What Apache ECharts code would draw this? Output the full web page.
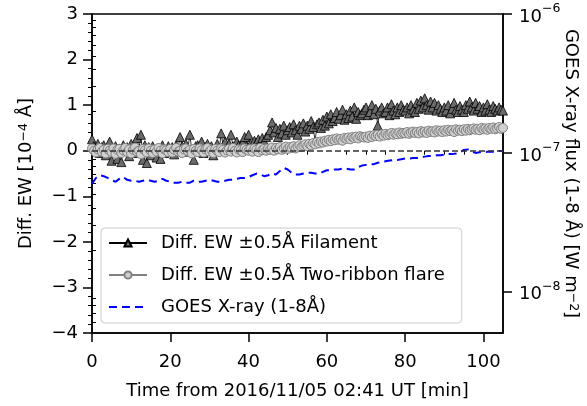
<!DOCTYPE html>
<html>
<head>
<meta charset="utf-8">
<script src="https://cdn.jsdelivr.net/npm/echarts@6/dist/echarts.min.js"></script>
<style>
html, body { margin: 0; padding: 0; background: #fff; }
#chart { width: 587px; height: 406px; }
</style>
</head>
<body>
<div id="chart"></div>
<script>
// time from 2016/11/05 02:41 UT [min], EW cadence 30 s
var ewTimes = [0,0.5,1,1.5,2,2.5,3,3.5,4,4.5,5,5.5,6,6.5,7,7.5,8,8.5,9,9.5,
  10,10.5,11,11.5,12,12.5,13,13.5,14,14.5,15,15.5,16,16.5,17,17.5,18,18.5,19,19.5,
  20,20.5,21,21.5,22,22.5,23,23.5,24,24.5,25,25.5,26,26.5,27,27.5,28,28.5,29,29.5,
  30,30.5,31,31.5,32,32.5,33,33.5,34,34.5,35,35.5,36,36.5,37,37.5,38,38.5,39,39.5,
  40,40.5,41,41.5,42,42.5,43,43.5,44,44.5,45,45.5,46,46.5,47,47.5,48,48.5,49,49.5,
  50,50.5,51,51.5,52,52.5,53,53.5,54,54.5,55,55.5,56,56.5,57,57.5,58,58.5,59,59.5,
  60,60.5,61,61.5,62,62.5,63,63.5,64,64.5,65,65.5,66,66.5,67,67.5,68,68.5,69,69.5,
  70,70.5,71,71.5,72,72.5,73,73.5,74,74.5,75,75.5,76,76.5,77,77.5,78,78.5,79,79.5,
  80,80.5,81,81.5,82,82.5,83,83.5,84,84.5,85,85.5,86,86.5,87,87.5,88,88.5,89,89.5,
  90,90.5,91,91.5,92,92.5,93,93.5,94,94.5,95,95.5,96,96.5,97,97.5,98,98.5,99,99.5,
  100,100.5,101,101.5,102,102.5,103,103.5,104,104.5,105];

// Diff. EW, filament [1e-4 A]
var filamentEW = [0.25,0.10,0.05,0.15,-0.05,0.08,0.12,-0.10,0.05,0.20,
  -0.22,0.02,0.10,-0.18,0.05,-0.25,0.12,0.00,0.08,-0.12,
  0.15,-0.05,0.10,0.28,0.05,0.35,-0.20,0.12,-0.27,0.08,
  -0.10,0.10,0.00,-0.15,0.05,-0.18,0.12,-0.05,0.02,0.10,
  0.00,0.08,-0.08,0.12,0.05,0.30,0.10,-0.02,0.15,0.05,
  0.35,0.00,-0.20,0.10,0.12,0.05,0.20,-0.05,0.08,0.15,
  0.00,0.10,-0.10,0.05,0.15,0.00,0.38,0.10,0.20,0.05,
  0.15,0.35,0.10,0.05,0.20,0.12,0.08,0.18,0.30,0.10,
  0.35,0.15,0.10,0.22,0.18,0.25,0.12,0.28,0.20,0.30,
  0.35,0.45,0.62,0.40,0.50,0.30,0.48,0.38,0.55,0.35,
  0.45,0.52,0.40,0.58,0.45,0.35,0.55,0.48,0.60,0.42,
  0.55,0.48,0.65,0.52,0.20,0.58,0.62,0.50,0.68,0.55,
  0.75,0.60,0.80,0.65,0.72,0.85,0.70,0.78,0.90,0.68,
  0.80,0.72,0.88,0.75,0.95,0.70,0.85,0.78,0.82,0.90,
  0.95,0.78,0.85,1.00,0.80,0.92,0.55,0.88,0.95,0.82,
  0.85,0.95,0.78,1.02,0.88,0.80,0.95,0.85,1.00,0.90,
  0.88,0.95,0.82,1.00,0.90,0.85,1.05,0.92,1.10,0.95,
  1.15,1.00,0.90,1.08,0.95,1.05,0.88,1.00,0.92,0.85,
  0.95,0.88,1.00,0.82,0.92,1.05,0.90,0.85,0.98,0.90,
  0.85,1.00,0.92,1.08,0.95,0.88,1.05,0.92,0.98,0.85,
  0.95,0.88,1.02,0.90,0.85,0.98,0.92,0.88,0.95,0.90,
  0.88];

// Diff. EW, two-ribbon flare [1e-4 A]
var ribbonEW = [0.05,0.00,-0.04,0.03,0.06,-0.02,0.02,-0.06,0.04,0.00,
  -0.03,0.05,-0.07,0.02,0.04,-0.05,0.01,0.06,-0.03,0.03,
  -0.06,0.02,0.07,-0.02,0.00,-0.08,0.04,0.01,-0.04,0.05,
  0.00,-0.05,0.03,-0.02,0.06,0.00,-0.06,0.03,0.01,-0.03,
  0.04,-0.04,0.02,0.06,-0.02,0.00,-0.05,0.03,0.05,-0.01,
  0.02,-0.06,0.04,0.00,-0.03,0.05,0.01,-0.04,0.03,0.06,
  -0.02,0.02,-0.05,0.04,0.00,-0.03,0.05,0.02,-0.04,0.01,
  0.04,-0.02,0.06,0.00,-0.04,0.03,0.01,-0.03,0.05,0.02,
  0.00,0.04,-0.02,0.05,0.02,-0.03,0.06,0.01,0.04,0.00,
  0.05,0.02,0.07,0.00,0.06,0.03,0.08,0.02,0.05,0.09,
  0.04,0.08,0.06,0.10,0.05,0.09,0.12,0.08,0.11,0.14,
  0.10,0.15,0.12,0.17,0.14,0.19,0.16,0.20,0.18,0.22,
  0.20,0.24,0.21,0.25,0.23,0.27,0.24,0.26,0.22,0.28,
  0.26,0.29,0.25,0.30,0.28,0.31,0.27,0.32,0.30,0.29,
  0.31,0.28,0.33,0.30,0.34,0.32,0.35,0.31,0.36,0.33,
  0.37,0.34,0.36,0.39,0.35,0.38,0.36,0.40,0.37,0.39,
  0.38,0.41,0.37,0.40,0.42,0.39,0.41,0.38,0.43,0.40,
  0.42,0.39,0.44,0.41,0.43,0.40,0.45,0.42,0.44,0.41,
  0.45,0.42,0.46,0.43,0.45,0.41,0.47,0.44,0.46,0.43,
  0.47,0.44,0.48,0.45,0.47,0.49,0.46,0.48,0.45,0.50,
  0.47,0.49,0.46,0.50,0.48,0.51,0.47,0.49,0.52,0.48,
  0.50];

// GOES times [min], 1 min cadence
var goesTimes = [0,1,2,3,4,5,6,7,8,9,10,11,12,13,14,15,16,17,18,19,20,21,22,23,24,25,26,27,28,29,
  30,31,32,33,34,35,36,37,38,39,40,41,42,43,44,45,46,47,48,49,50,51,52,53,54,55,56,57,58,59,
  60,61,62,63,64,65,66,67,68,69,70,71,72,73,74,75,76,77,78,79,80,81,82,83,84,85,86,87,88,89,
  90,91,92,93,94,95,96,97,98,99,100,101,102,103,104,105];

// GOES X-ray flux 1-8 A [W m^-2]
var goesFlux = [6.0e-8,6.6e-8,6.9e-8,6.8e-8,6.6e-8,6.4e-8,6.2e-8,6.5e-8,6.7e-8,6.4e-8,
  6.3e-8,6.3e-8,6.2e-8,6.3e-8,6.4e-8,6.3e-8,6.2e-8,6.3e-8,6.5e-8,6.3e-8,
  6.2e-8,6.1e-8,6.1e-8,6.2e-8,6.1e-8,6.1e-8,6.3e-8,6.2e-8,6.2e-8,6.3e-8,
  6.4e-8,6.3e-8,6.2e-8,6.2e-8,6.3e-8,6.4e-8,6.4e-8,6.5e-8,6.6e-8,6.6e-8,
  6.7e-8,6.9e-8,7.1e-8,7.0e-8,6.8e-8,6.9e-8,7.1e-8,7.0e-8,7.4e-8,7.8e-8,
  7.6e-8,7.2e-8,7.0e-8,7.0e-8,7.1e-8,7.2e-8,7.2e-8,7.1e-8,7.1e-8,7.3e-8,
  7.5e-8,7.5e-8,7.6e-8,7.6e-8,7.7e-8,7.7e-8,7.6e-8,7.6e-8,7.9e-8,8.1e-8,
  8.2e-8,8.3e-8,8.3e-8,8.5e-8,8.6e-8,8.7e-8,8.8e-8,8.9e-8,8.9e-8,9.0e-8,
  9.1e-8,9.1e-8,9.2e-8,9.2e-8,9.3e-8,9.4e-8,9.5e-8,9.5e-8,9.6e-8,9.6e-8,
  9.7e-8,9.8e-8,9.8e-8,9.9e-8,1.01e-7,1.05e-7,1.06e-7,1.02e-7,1.00e-7,1.01e-7,
  1.01e-7,1.02e-7,1.02e-7,1.02e-7,1.03e-7,1.03e-7];

var xTicks = [0, 20, 40, 60, 80, 100];
var xMinorTicks = [5,10,15,25,30,35,45,50,55,65,70,75,85,90,95];
var goesTicks = [1e-8, 1e-7, 1e-6];
var goesMinorTicks = [6e-9,7e-9,8e-9,9e-9,
  2e-8,3e-8,4e-8,5e-8,6e-8,7e-8,8e-8,9e-8,
  2e-7,3e-7,4e-7,5e-7,6e-7,7e-7,8e-7,9e-7];

function pairs(xs, ys) {
  return xs.map(function (t, i) { return [t, ys[i]]; });
}

var FONT = 'DejaVu Sans';
var FS = 18;
var supRich = {
  b: { fontFamily: FONT, fontSize: FS, color: '#000', padding: [6, 0, 0, 0] },
  s: { fontFamily: FONT, fontSize: 12.5, color: '#000', verticalAlign: 'top' }
};

var myChart = echarts.init(document.getElementById('chart'));

var option = {
  animation: false,
  backgroundColor: '#fff',
  textStyle: { fontFamily: FONT },
  grid: {
    left: 92, right: 84, top: 14, bottom: 73,
    containLabel: false, outerBoundsMode: 'none',
    show: true, borderColor: '#000', borderWidth: 1.5, backgroundColor: 'transparent'
  },
  legend: {
    orient: 'vertical',
    left: 101, top: 228,
    padding: [6, 17, 7, 7],
    itemGap: 14,
    itemWidth: 38, itemHeight: 9,
    backgroundColor: 'rgba(255,255,255,0.8)',
    borderColor: '#cccccc', borderWidth: 1, borderRadius: 4,
    textStyle: { fontFamily: FONT, fontSize: FS, color: '#000', padding: [0, 0, 0, 9] },
    data: [
      'Diff. EW \u00b10.5\u00c5 Filament',
      'Diff. EW \u00b10.5\u00c5 Two-ribbon flare',
      { name: 'GOES X-ray (1-8\u00c5)', itemStyle: { opacity: 0 } }
    ]
  },
  xAxis: [{
    type: 'value', min: 0, max: 105, interval: 20,
    name: 'Time from 2016/11/05 02:41 UT [min]',
    nameLocation: 'middle', nameGap: 49, nameMoveOverlap: false,
    nameTextStyle: { fontFamily: FONT, fontSize: FS, color: '#000' },
    axisLine: { show: true, onZero: false, lineStyle: { color: '#000', width: 1.5 } },
    axisTick: { show: true, length: 9, customValues: xTicks, lineStyle: { color: '#000', width: 1.5 } },
    axisLabel: { customValues: xTicks, margin: 20, fontFamily: FONT, fontSize: FS, color: '#000' },
    splitLine: { show: false }
  }, {
    type: 'value', min: 0, max: 105, position: 'bottom',
    axisLine: { show: false },
    axisTick: { show: true, length: 4, customValues: xMinorTicks, lineStyle: { color: '#000', width: 1 } },
    axisLabel: { show: false },
    splitLine: { show: false }
  }],
  yAxis: [{
    type: 'value', min: -4, max: 3, interval: 1, position: 'left',
    name: 'Diff. EW [10{s|\u22124} \u00c5]',
    nameLocation: 'middle', nameGap: 57, nameRotate: 90, nameMoveOverlap: false,
    nameTextStyle: { fontFamily: FONT, fontSize: FS, color: '#000', rich: supRich },
    axisLine: { show: true, onZero: false, lineStyle: { color: '#000', width: 1.5 } },
    axisTick: { show: true, length: 9, lineStyle: { color: '#000', width: 1.5 } },
    minorTick: { show: true, splitNumber: 5, length: 4, lineStyle: { color: '#000', width: 1 } },
    axisLabel: {
      margin: 14, fontFamily: FONT, fontSize: FS, color: '#000',
      formatter: function (v) { return v < 0 ? '\u2212' + Math.abs(v) : String(v); }
    },
    splitLine: { show: false }
  }, {
    type: 'log', min: 5.05e-9, max: 1e-6, position: 'right',
    name: 'GOES X-ray flux (1-8 \u00c5) [W m{s|\u22122}]',
    nameLocation: 'middle', nameGap: 59, nameRotate: -90, nameMoveOverlap: false,
    nameTextStyle: { fontFamily: FONT, fontSize: FS, color: '#000', rich: supRich },
    axisLine: { show: true, onZero: false, lineStyle: { color: '#000', width: 1.5 } },
    axisTick: { show: true, length: 9, customValues: goesTicks, lineStyle: { color: '#000', width: 1.5 } },
    axisLabel: {
      customValues: goesTicks, margin: 16, color: '#000',
      formatter: function (v) {
        var e = Math.round(Math.log(v) / Math.LN10);
        return '{b|10}{s|\u2212' + (-e) + '}';
      },
      rich: supRich
    },
    splitLine: { show: false }
  }, {
    type: 'log', min: 5.05e-9, max: 1e-6, position: 'right',
    axisLine: { show: false },
    axisTick: { show: true, length: 4, customValues: goesMinorTicks, lineStyle: { color: '#000', width: 1 } },
    axisLabel: { show: false },
    splitLine: { show: false }
  }],
  series: [{
    name: 'Diff. EW \u00b10.5\u00c5 Filament',
    type: 'line', xAxisIndex: 0, yAxisIndex: 0, z: 2,
    data: pairs(ewTimes, filamentEW),
    symbol: 'triangle', symbolSize: 9,
    color: '#6b6b6b',
    itemStyle: { color: '#6b6b6b', borderColor: '#000', borderWidth: 0.8 },
    lineStyle: { color: '#000', width: 0.8 },
    markLine: {
      silent: true, symbol: 'none', label: { show: false },
      lineStyle: { color: '#333', width: 1.5, type: [6, 3] },
      data: [{ yAxis: 0 }]
    }
  }, {
    name: 'Diff. EW \u00b10.5\u00c5 Two-ribbon flare',
    type: 'line', xAxisIndex: 0, yAxisIndex: 0, z: 3,
    data: pairs(ewTimes, ribbonEW),
    symbol: 'circle', symbolSize: 9,
    color: '#d0d0d0',
    itemStyle: { color: '#d0d0d0', borderColor: '#808080', borderWidth: 1 },
    lineStyle: { color: '#808080', width: 1 }
  }, {
    name: 'GOES X-ray (1-8\u00c5)',
    type: 'line', xAxisIndex: 0, yAxisIndex: 1, z: 4,
    data: pairs(goesTimes, goesFlux),
    symbol: 'none',
    color: '#0000ff',
    lineStyle: { color: '#0000ff', width: 2, type: [8, 5] }
  }]
};

if (option && typeof option === 'object') {
  myChart.setOption(option, true);
}
</script>
</body>
</html>
